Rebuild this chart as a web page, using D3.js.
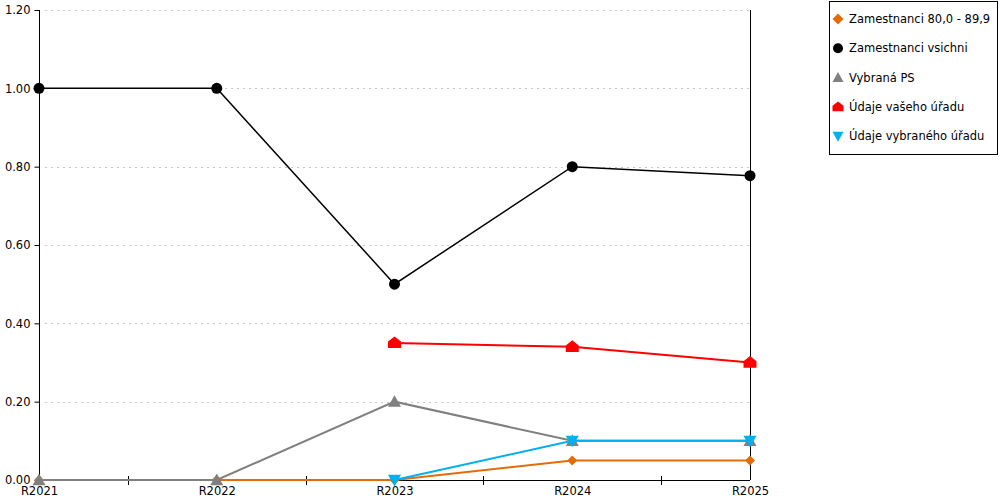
<!DOCTYPE html>
<html><head><meta charset="utf-8">
<script src="https://cdn.jsdelivr.net/npm/d3@7"></script>
<style>body{margin:0;background:#fff}svg{display:block}text{font-family:"DejaVu Sans",Verdana,sans-serif;font-size:11.5px;fill:#000}</style>
</head><body><svg id="c" width="1000" height="500"></svg>
<script>
const categories = ["R2021","R2022","R2023","R2024","R2025"];
const yTicks = [0,0.2,0.4,0.6,0.8,1.0,1.2];
const seriesNames = ["Zamestnanci 80,0 - 89,9","Zamestnanci vsichni","Vybraná PS","Údaje vašeho úřadu","Údaje vybraného úřadu"];
const orangeVals = [0,0,0,0.05,0.05];
const blackVals = [1.0,1.0,0.5,0.8,0.777];
const grayVals = [0,0,0.2,0.1,0.1];
const redVals = [null,null,0.35,0.34,0.30];
const blueVals = [null,null,0,0.1,0.1];
const seriesColors = ["#e36c0a","#000000","#808080","#ff0000","#00b0f0"];
const seriesWidths = [2,1.5,2,2,2];
const seriesShapes = ["diamond","circle","triangle","house","down"];
const seriesValues = [orangeVals,blackVals,grayVals,redVals,blueVals];
const FONT = '"DejaVu Sans",Verdana,sans-serif';

const svg = d3.select("#c");
const x = d3.scalePoint().domain(categories).range([39,750]);
const y = d3.scaleLinear().domain([0,1.2]).range([480,10]);

function shapePath(s, r){
  switch(s){
    case "diamond": return `M0,${-r}L${r},0L0,${r}L${-r},0Z`;
    case "circle": return d3.symbol(d3.symbolCircle, Math.PI*r*r)();
    case "triangle": return `M0,${-r}L${r},${r*0.8}L${-r},${r*0.8}Z`;
    case "down": return `M${-r},${-r*0.8}L${r},${-r*0.8}L0,${r}Z`;
    case "house": return `M0,${-r}L${r},${-r*0.2}L${r},${r*0.8}L${-r},${r*0.8}L${-r},${-r*0.2}Z`;
  }
}
const shapeSize = {diamond:5,circle:5.5,triangle:6.5,house:6.5,down:6.5};

// gridlines
const g = svg.append("g");
g.selectAll("line.grid").data(yTicks.filter(d=>d>0)).enter().append("line")
  .attr("x1",45).attr("x2",750).attr("y1",d=>Math.round(y(d))+0.5).attr("y2",d=>Math.round(y(d))+0.5)
  .attr("stroke","#c8c8c8").attr("stroke-dasharray","2,4").attr("stroke-width",1);

// y axis
const yAxis = d3.axisLeft(y).tickValues(yTicks).tickFormat(d3.format(".2f")).tickSize(5).tickPadding(4);
const ya = svg.append("g").attr("transform","translate(39.5,0)").call(yAxis);
ya.select(".domain").attr("d",`M0,${y(1.2)}V${y(0)}`).attr("stroke","#000");
ya.selectAll(".tick line").attr("stroke","#000");
ya.selectAll("text").style("font-family",FONT).style("font-size","11.5px").attr("fill","#000");

// right line
svg.append("line").attr("x1",750.5).attr("x2",750.5).attr("y1",y(1.2)).attr("y2",y(0)).attr("stroke","#000");

// x axis
const xAxis = d3.axisBottom(x).tickSize(0).tickPadding(8);
const xa = svg.append("g").attr("transform",`translate(0,${y(0)+0.5})`).call(xAxis);
xa.select(".domain").attr("d",`M39,0H750`).attr("stroke","#000");
xa.selectAll("text").style("font-family",FONT).style("font-size","11.5px").attr("fill","#000").attr("dy","0.55em");
// minor ticks between categories
const mids = categories.slice(0,-1).map((c,i)=>(x(c)+x(categories[i+1]))/2);
svg.selectAll("line.mt").data(mids).enter().append("line")
  .attr("x1",d=>Math.round(d)+0.5).attr("x2",d=>Math.round(d)+0.5).attr("y1",y(0)-4).attr("y2",y(0)+5).attr("stroke","#000");

// series
seriesValues.forEach((vals,i)=>{
  const pts = categories.map((c,j)=>({c,v:vals[j]})).filter(p=>p.v!==null);
  const line = d3.line().x(p=>x(p.c)).y(p=>y(p.v));
  svg.append("path").attr("d",line(pts)).attr("fill","none").attr("stroke",seriesColors[i]).attr("stroke-width",seriesWidths[i]);
  svg.selectAll(null).data(pts).enter().append("path")
    .attr("transform",p=>`translate(${x(p.c)},${y(p.v)})`)
    .attr("d",shapePath(seriesShapes[i],shapeSize[seriesShapes[i]])).attr("fill",seriesColors[i]);
});

// legend
const lg = svg.append("g");
lg.append("rect").attr("x",829.5).attr("y",1.5).attr("width",168).attr("height",153).attr("fill","#fff").attr("stroke","#000");
seriesNames.forEach((n,i)=>{
  const cy = 19 + i*29.3;
  lg.append("path").attr("transform",`translate(838,${cy})`).attr("d",shapePath(seriesShapes[i],seriesShapes[i]==="circle"?5:5.5)).attr("fill",seriesColors[i]);
  lg.append("text").attr("x",849).attr("y",cy).attr("dy","0.35em").text(n);
});
</script></body></html>
